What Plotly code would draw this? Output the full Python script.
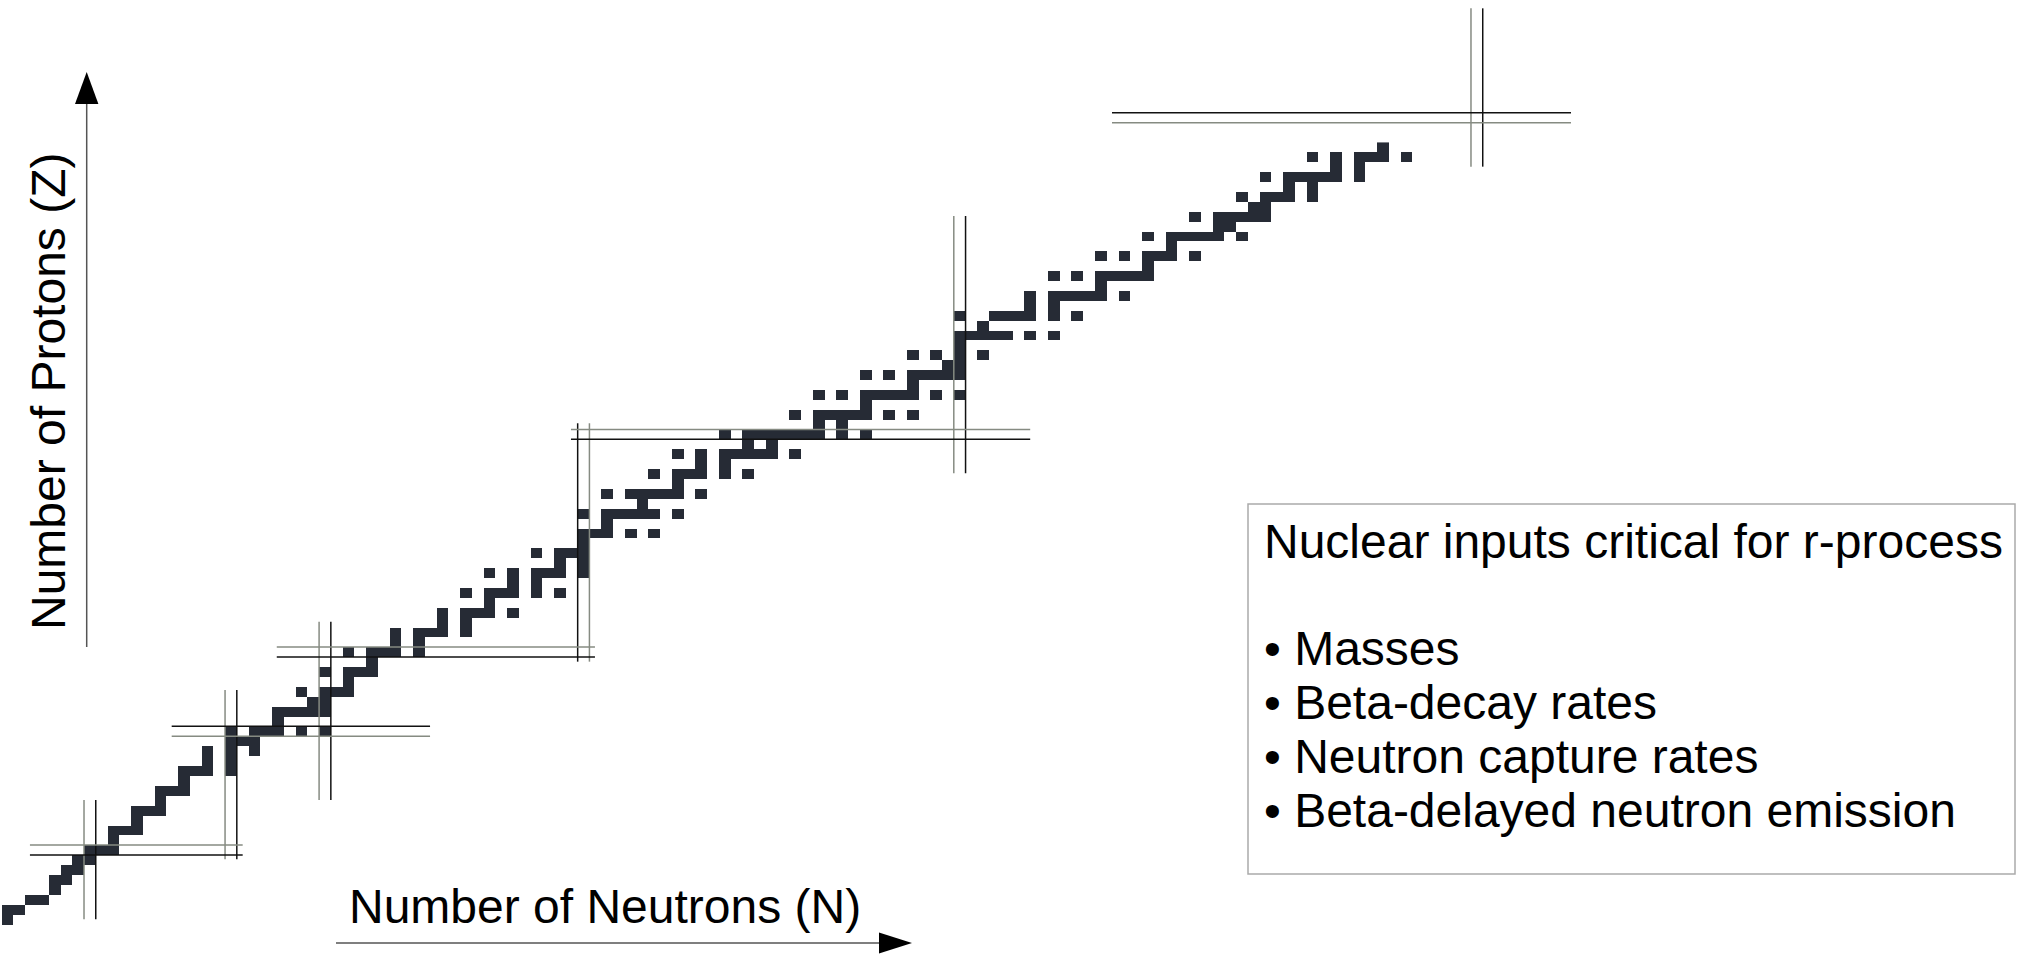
import plotly.graph_objects as go

# ---------------- data ----------------
# Neutron numbers (N) of the nuclides drawn as dark cells, indexed by proton number Z
stable_neutrons = [
    [],                                   # Z=0
    [1],                                  # H
    [1, 2],                               # He
    [3, 4],                               # Li
    [5],                                  # Be
    [5, 6],                               # B
    [6, 7],                               # C
    [7, 8],                               # N
    [8, 9, 10],                           # O
    [10],                                 # F
    [10, 11, 12],                         # Ne
    [12],                                 # Na
    [12, 13, 14],                         # Mg
    [14],                                 # Al
    [14, 15, 16],                         # Si
    [16],                                 # P
    [16, 17, 18, 20],                     # S
    [18, 20],                             # Cl
    [18, 20, 22],                         # Ar
    [20, 21, 22],                         # K
    [20, 22, 23, 24, 26, 28],             # Ca
    [24],                                 # Sc
    [24, 25, 26, 27, 28],                 # Ti
    [27, 28],                             # V
    [26, 28, 29, 30],                     # Cr
    [30],                                 # Mn
    [28, 30, 31, 32],                     # Fe
    [32],                                 # Co
    [30, 32, 33, 34, 36],                 # Ni
    [34, 36],                             # Cu
    [34, 36, 37, 38, 40],                 # Zn
    [38, 40],                             # Ga
    [38, 40, 41, 42, 44],                 # Ge
    [42],                                 # As
    [40, 42, 43, 44, 46, 48],             # Se
    [44, 46],                             # Br
    [42, 44, 46, 47, 48, 50],             # Kr
    [48, 50],                             # Rb
    [46, 48, 49, 50],                     # Sr
    [50],                                 # Y
    [50, 51, 52, 54, 56],                 # Zr
    [52],                                 # Nb
    [50, 52, 53, 54, 55, 56, 58],         # Mo
    [55],                                 # Tc
    [52, 54, 55, 56, 57, 58, 60],         # Ru
    [58],                                 # Rh
    [56, 58, 59, 60, 62, 64],             # Pd
    [60, 62],                             # Ag
    [58, 60, 62, 63, 64, 65, 66, 68],     # Cd
    [64, 66],                             # In
    [62, 64, 65, 66, 67, 68, 69, 70, 72, 74],  # Sn
    [70, 72],                             # Sb
    [68, 70, 71, 72, 73, 74, 76, 78],     # Te
    [74],                                 # I
    [70, 72, 74, 75, 76, 77, 78, 80, 82], # Xe
    [78],                                 # Cs
    [74, 76, 78, 79, 80, 81, 82],         # Ba
    [81, 82],                             # La
    [78, 80, 82, 84],                     # Ce
    [82],                                 # Pr
    [82, 83, 84, 85, 86, 88, 90],         # Nd
    [84],                                 # Pm
    [82, 85, 86, 87, 88, 90, 92],         # Sm
    [88, 90],                             # Eu
    [88, 90, 91, 92, 93, 94, 96],         # Gd
    [94],                                 # Tb
    [90, 92, 94, 95, 96, 97, 98],         # Dy
    [98],                                 # Ho
    [94, 96, 98, 99, 100, 102],           # Er
    [100],                                # Tm
    [98, 100, 101, 102, 103, 104, 106],   # Yb
    [104, 105],                           # Lu
    [102, 104, 105, 106, 107, 108],       # Hf
    [107, 108],                           # Ta
    [106, 108, 109, 110, 112],            # W
    [110, 112],                           # Re
    [108, 110, 111, 112, 113, 114, 116],  # Os
    [114, 116],                           # Ir
    [112, 114, 116, 117, 118, 120],       # Pt
    [118],                                # Au
]

# magic numbers with the extent of their double lines (in N or Z units)
magic_N = [8, 20, 28, 50, 82, 126]
magic_N_zspan = [(1.0, 13.05), (7.06, 24.17), (13.05, 31.07), (27.03, 51.12), (46.06, 72.06), (77.05, 93.05)]
magic_Z = [8, 20, 28, 50, 82]
magic_Z_nspan = [(2.9, 21.0), (14.96, 36.94), (23.9, 50.97), (48.93, 88.0), (94.96, 134.01)]

box_title = "Nuclear inputs critical for r-process"
box_items = ["Masses", "Beta-decay rates", "Neutron capture rates", "Beta-delayed neutron emission"]
x_label = "Number of Neutrons (N)"
y_label = "Number of Protons (Z)"

# ---------------- styling ----------------
W, H = 2028, 954
CELL = "#262b35"
BLACK = "#111111"
GREY = "#868b82"
FONT = "Liberation Sans, Arial, sans-serif"

n_max = 130
z_max = len(stable_neutrons) - 1
zgrid = [[None] * (n_max + 1) for _ in range(z_max + 1)]
for z, ns in enumerate(stable_neutrons):
    for n in ns:
        zgrid[z][n] = 1

fig = go.Figure(go.Heatmap(
    x=list(range(n_max + 1)), y=list(range(z_max + 1)), z=zgrid,
    colorscale=[[0, CELL], [1, CELL]], showscale=False, hoverinfo="skip",
    zmin=0, zmax=1,
))

shapes = []
# vertical magic lines (neutron numbers)
v_cols = {50: (BLACK, GREY)}
for n, (z0, z1) in zip(magic_N, magic_N_zspan):
    cl, cr = v_cols.get(n, (GREY, BLACK))
    for off, c in ((-0.5, cl), (0.5, cr)):
        shapes.append(dict(type="line", xref="x", yref="y", x0=n + off, x1=n + off,
                           y0=z0, y1=z1, line=dict(color=c, width=1.5), layer="above"))
# horizontal magic lines (proton numbers)
h_cols = {20: (BLACK, GREY), 82: (BLACK, GREY)}
for z, (n0, n1) in zip(magic_Z, magic_Z_nspan):
    ct, cb = h_cols.get(z, (GREY, BLACK))
    for off, c in ((0.5, ct), (-0.5, cb)):
        shapes.append(dict(type="line", xref="x", yref="y", x0=n0, x1=n1,
                           y0=z + off, y1=z + off, line=dict(color=c, width=1.5), layer="above"))


def px(x):
    return x / W


def py(y):
    return 1 - y / H


# axis arrows
shapes.append(dict(type="line", xref="paper", yref="paper", x0=px(86.7), x1=px(86.7),
                   y0=py(647), y1=py(100), line=dict(color="#555555", width=1.5)))
shapes.append(dict(type="path", xref="paper", yref="paper",
                   path=f"M {px(86.7)} {py(72)} L {px(75)} {py(104)} L {px(98.4)} {py(104)} Z",
                   fillcolor="black", line=dict(color="black", width=0)))
shapes.append(dict(type="line", xref="paper", yref="paper", x0=px(336), x1=px(885),
                   y0=py(943), y1=py(943), line=dict(color="#555555", width=1.5)))
shapes.append(dict(type="path", xref="paper", yref="paper",
                   path=f"M {px(912)} {py(943)} L {px(879)} {py(932.5)} L {px(879)} {py(953.5)} Z",
                   fillcolor="black", line=dict(color="black", width=0)))
# text box
shapes.append(dict(type="rect", xref="paper", yref="paper", x0=px(1248), x1=px(2015),
                   y0=py(874), y1=py(504), line=dict(color="#aaaaaa", width=1.5),
                   fillcolor="rgba(0,0,0,0)"))

annotations = []
FS = 48
annotations.append(dict(text=box_title, x=px(1262), y=py(541), xref="paper", yref="paper",
                        xanchor="left", yanchor="middle", showarrow=False,
                        font=dict(family=FONT, size=FS, color="black")))
for i, item in enumerate(box_items):
    annotations.append(dict(text="\u2022 " + item, x=px(1262), y=py(648 + i * 54.3),
                            xref="paper", yref="paper", xanchor="left", yanchor="middle",
                            showarrow=False, font=dict(family=FONT, size=FS, color="black")))
annotations.append(dict(text=x_label, x=px(605), y=py(906), xref="paper", yref="paper",
                        xanchor="center", yanchor="middle", showarrow=False,
                        font=dict(family=FONT, size=FS, color="black")))
annotations.append(dict(text=y_label, x=px(48), y=py(392), xref="paper", yref="paper",
                        xanchor="center", yanchor="middle", showarrow=False, textangle=-90,
                        font=dict(family=FONT, size=FS, color="black")))

fig.update_layout(
    width=W, height=H, margin=dict(l=0, r=0, t=0, b=0),
    paper_bgcolor="white", plot_bgcolor="white",
    xaxis=dict(range=[4.15 / 11.754, (W + 4.15) / 11.754], visible=False, showgrid=False, zeroline=False),
    yaxis=dict(range=[(929.15 - H) / 9.896, 929.15 / 9.896], visible=False, showgrid=False, zeroline=False),
    shapes=shapes, annotations=annotations, showlegend=False,
)

fig.write_html("out.html")
